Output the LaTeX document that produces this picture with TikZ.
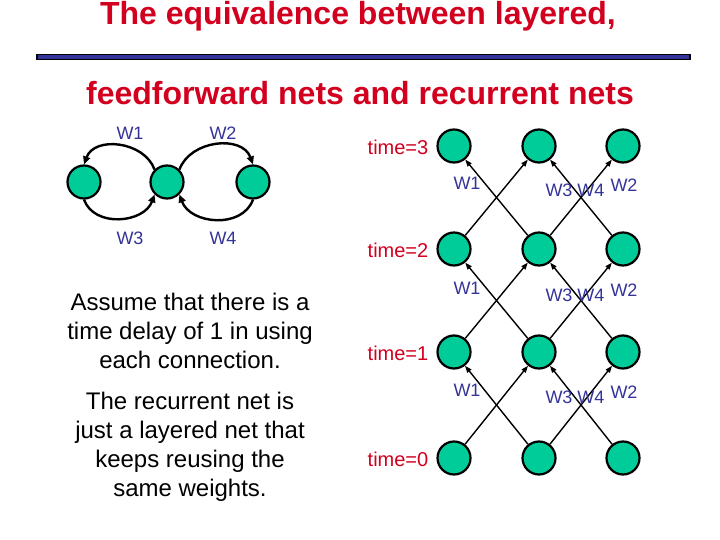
\documentclass[tikz,border=0pt]{standalone}
\usepackage{fontspec}
\setmainfont{Liberation Sans}
\usetikzlibrary{arrows.meta}
\definecolor{tred}{RGB}{210,0,30}
\definecolor{wblue}{RGB}{51,51,153}
\definecolor{ngreen}{RGB}{0,204,153}
\begin{document}
\begin{tikzpicture}[x=1pt,y=-1pt,
  nd/.style={circle,draw=black,line width=2.2pt,fill=ngreen,minimum size=33pt,inner sep=0pt},
  wl/.style={text=wblue,font=\fontsize{18}{20}\selectfont},
  tl/.style={text=tred,font=\fontsize{20}{22}\selectfont},
  ttl/.style={text=tred,font=\bfseries\fontsize{32}{34}\selectfont},
  cv/.style={line width=2.4pt,-{Triangle[length=8pt,width=7pt]}},
  ar/.style={line width=1.4pt,-{Triangle[length=7pt,width=5pt]}},
  bt/.style={font=\fontsize{24}{29}\selectfont,align=center}]
\useasboundingbox (0,0) rectangle (720,540);
\node[ttl] (t1) at (358,16) {The equivalence between layered,};
\node[ttl] (t2) at (360,93) {feedforward nets and recurrent nets};
\draw[draw=black,fill=wblue,line width=1.2pt] (37,54.5) rectangle (690,59.5);
% left recurrent net
\node[nd] (a) at (84,182) {};
\node[nd] (b) at (167,182) {};
\node[nd] (c) at (253,182) {};
\node[wl] at (130,133) {W1};
\node[wl] at (223,133) {W2};
\node[wl] at (130,238) {W3};
\node[wl] at (223,238) {W4};
\draw[cv] (b.north west) to[out=110,in=70,looseness=1.1] (a.north);
\draw[cv] (b.north east) to[out=70,in=110,looseness=1.1] (c.north);
\draw[cv] (a.south) to[out=-70,in=-110,looseness=1.1] (b.south west);
\draw[cv] (c.south) to[out=-110,in=-70,looseness=1.1] (b.south east);
\node[bt] at (190,331) {Assume that there is a\\time delay of 1 in using\\each connection.};
\node[bt] at (190,447) {The recurrent net is\\just a layered net that\\keeps reusing the\\same weights.};
% unrolled net
\foreach \r/\y in {3/146,2/249,1/352,0/458}{
  \node[tl] at (398,\y+1) {time=\r};
  \node[nd] (n\r a) at (454,\y) {};
  \node[nd] (n\r b) at (539,\y) {};
  \node[nd] (n\r c) at (623,\y) {};
}
\foreach \lo/\hi/\y in {2/3/185,1/2/290,0/1/392}{
  \draw[ar] (n\lo a) -- (n\hi b);
  \draw[ar] (n\lo b) -- (n\hi a);
  \draw[ar] (n\lo b) -- (n\hi c);
  \draw[ar] (n\lo c) -- (n\hi b);
  \node[wl] at (467,\y-2) {W1};
  \node[wl] at (575,\y+5) {W3 W4};
  \node[wl] at (624,\y) {W2};
}
\end{tikzpicture}
\end{document}
